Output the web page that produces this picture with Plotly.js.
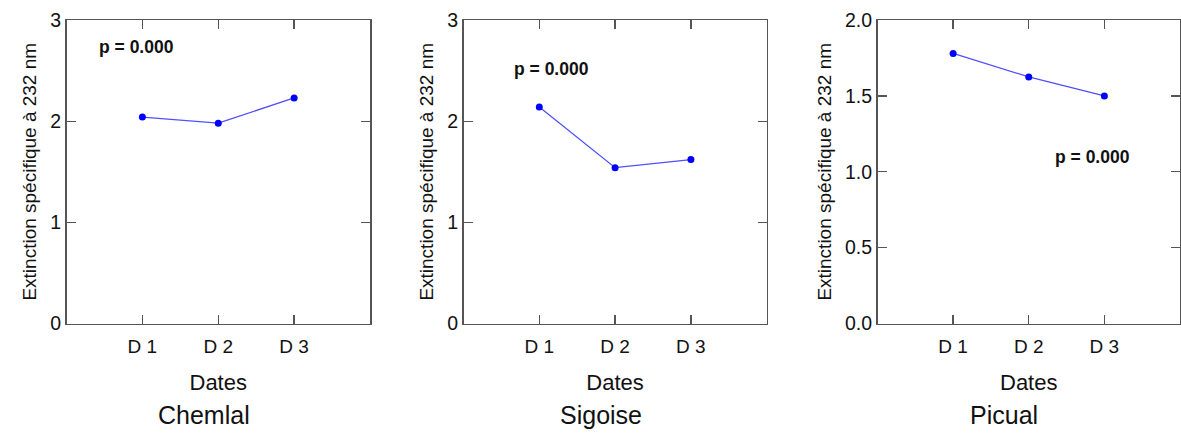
<!DOCTYPE html>
<html>
<head>
<meta charset="utf-8">
<script src="https://cdn.plot.ly/plotly-3.0.1.min.js"></script>
<style>html,body{margin:0;padding:0;background:#fff;}#chart{width:1181px;height:434px;}</style>
</head>
<body>
<div id="chart"></div>
<script>
const dates = ['D 1', 'D 2', 'D 3'];
const cultivars = ['Chemlal', 'Sigoise', 'Picual'];
const chemlal = [2.04, 1.98, 2.23];
const sigoise = [2.14, 1.54, 1.62];
const picual = [1.78, 1.625, 1.50];
const pValues = ['p = 0.000', 'p = 0.000', 'p = 0.000'];
const yTitle = 'Extinction spécifique à 232 nm';
const xTitle = 'Dates';

const FONT = 'Arial, "Liberation Sans", sans-serif';
const series = [chemlal, sigoise, picual];
const suffix = ['', '2', '3'];

const traces = series.map((vals, i) => ({
  type: 'scatter', mode: 'lines+markers',
  x: dates, y: vals,
  xaxis: 'x' + suffix[i], yaxis: 'y' + suffix[i],
  line: {color: '#4f4fff', width: 1.3},
  marker: {color: '#0000ff', size: 7},
  showlegend: false, hoverinfo: 'x+y'
}));

const xDomains = [[66.5/1181, 370/1181], [463.5/1181, 766.7/1181], [877.5/1181, 1180/1181]];
const yDomain = [1 - 323.5/434, 1 - 20/434];
const yRanges = [[0, 3], [0, 3], [0, 2]];
const yDtick = [1, 1, 0.5];
const yFormat = ['d', 'd', '.1f'];

const layout = {
  width: 1181, height: 434,
  margin: {l: 0, r: 0, t: 0, b: 0},
  paper_bgcolor: '#fff', plot_bgcolor: '#fff',
  font: {family: FONT, color: '#111'},
  annotations: []
};

for (let i = 0; i < 3; i++) {
  const s = suffix[i];
  layout['xaxis' + s] = {
    domain: xDomains[i], anchor: 'y' + s,
    type: 'category', range: [-1, 3],
    showline: true, linecolor: '#555', linewidth: 1.5, mirror: 'ticks',
    ticks: 'inside', ticklen: 9, tickcolor: '#555', tickwidth: 1.3,
    showgrid: false, zeroline: false,
    tickfont: {family: FONT, size: 19, color: '#111'},
    ticklabelstandoff: 5,
    title: {text: xTitle, font: {family: FONT, size: 22, color: '#111'}, standoff: 19}
  };
  layout['yaxis' + s] = {
    domain: yDomain, anchor: 'x' + s,
    range: yRanges[i], dtick: yDtick[i], tick0: 0, tickformat: yFormat[i],
    showline: true, linecolor: '#555', linewidth: 1.5, mirror: 'ticks',
    ticks: 'inside', ticklen: 9, tickcolor: '#555', tickwidth: 1.3,
    showgrid: false, zeroline: false,
    tickfont: {family: FONT, size: 19.5, color: '#111'},
    title: {text: yTitle, font: {family: FONT, size: 19, color: '#111'}, standoff: 8}
  };
}

// cultivar labels under each panel
const labelX = [204/1181, 601/1181, 1004/1181];
cultivars.forEach((c, i) => {
  layout.annotations.push({
    xref: 'paper', yref: 'paper', x: labelX[i], y: 1 - 415/434,
    text: c, showarrow: false, xanchor: 'center', yanchor: 'middle',
    font: {family: FONT, size: 25, color: '#111'}
  });
});

// p-value labels placed in data coordinates
const pPos = [[-0.6, 2.73], [-0.36, 2.52], [1.32, 1.1]];
pValues.forEach((p, i) => {
  layout.annotations.push({
    xref: 'x' + suffix[i], yref: 'y' + suffix[i],
    x: pPos[i][0], y: pPos[i][1],
    text: '<b>' + p + '</b>', showarrow: false, xanchor: 'left', yanchor: 'middle',
    font: {family: FONT, size: 17.5, color: '#111'}
  });
});

Plotly.newPlot('chart', traces, layout, {displayModeBar: false, staticPlot: true});
</script>
</body>
</html>
